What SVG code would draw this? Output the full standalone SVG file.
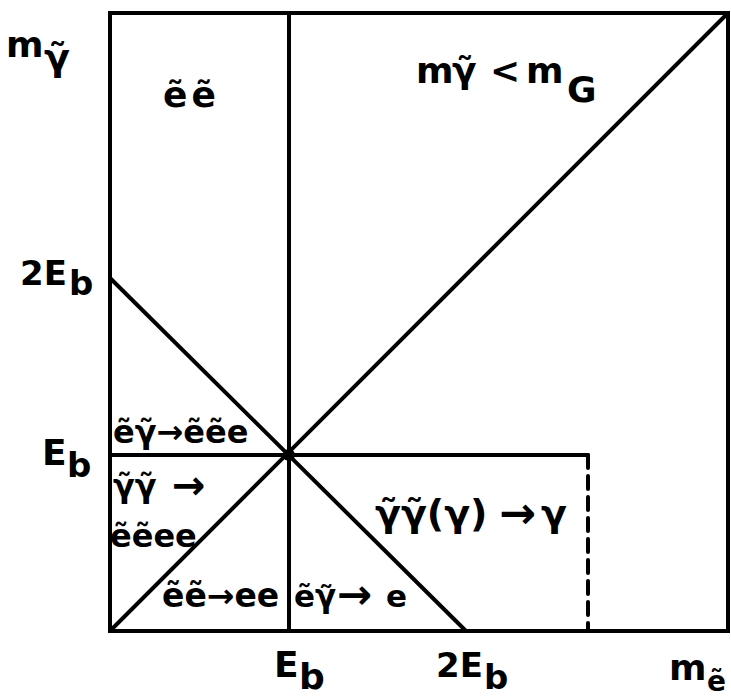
<svg xmlns="http://www.w3.org/2000/svg" width="731" height="698" viewBox="0 0 731 698">
<style>
.ln{stroke:#000;stroke-width:4;fill:none;stroke-linecap:round}
.t{font-family:"DejaVu Sans",sans-serif;font-weight:bold;fill:#000}
</style>
<rect width="731" height="698" fill="#fff"/>
<g id="lines">
<rect class="ln" x="110" y="13" width="618" height="618" stroke-linecap="square"/>
<line class="ln" x1="289" y1="13" x2="289" y2="631"/>
<line class="ln" x1="110" y1="631" x2="728" y2="13"/>
<line class="ln" x1="110" y1="278" x2="466" y2="631"/>
<line class="ln" x1="110" y1="455" x2="588" y2="455"/>
<line class="ln" x1="588" y1="455" x2="588" y2="631" stroke-dasharray="13 8" stroke-linecap="butt"/>
<circle cx="289" cy="455" r="6" fill="#000"/>
</g>
<g id="axis-labels">
<text class="t" font-size="36"><tspan x="6" y="57">m</tspan><tspan x="44" y="70" font-size="38">γ̃</tspan></text>
<text class="t" font-size="34"><tspan x="20" y="285">2E</tspan><tspan x="69" y="295">b</tspan></text>
<text class="t" font-size="36"><tspan x="42" y="465">E</tspan><tspan x="67" y="477" font-size="34">b</tspan></text>
<text class="t" font-size="36"><tspan x="274" y="677">E</tspan><tspan x="299" y="689">b</tspan></text>
<text class="t" font-size="34"><tspan x="436" y="677">2E</tspan><tspan x="484" y="689">b</tspan></text>
<text class="t" font-size="36"><tspan x="669" y="680">m</tspan><tspan x="707" y="691" font-size="28">ẽ</tspan></text>
</g>
<g id="regions">
<text class="t" font-size="36" letter-spacing="4"><tspan x="163" y="107">ẽẽ</tspan></text>
<text class="t" font-size="36"><tspan x="416" y="83">m</tspan><tspan x="452" y="83">γ̃</tspan><tspan x="490" y="83">&lt;</tspan><tspan x="526" y="83">m</tspan><tspan x="567" y="102">G</tspan></text>
<text class="t" font-size="32" x="113" y="443">ẽγ̃→ẽẽe</text>
<text class="t" font-size="32"><tspan x="113" y="497">γ̃γ̃</tspan><tspan x="172" y="499" font-size="40">→</tspan></text>
<text class="t" font-size="32" x="110" y="547">ẽẽee</text>
<text class="t" font-size="33" x="162" y="607">ẽẽ→ee</text>
<text class="t" font-size="31"><tspan x="294" y="607">ẽγ̃</tspan><tspan x="337" y="609" font-size="42">→</tspan><tspan x="386" y="607">e</tspan></text>
<text class="t" font-size="38"><tspan x="375" y="526">γ̃γ̃(γ)</tspan><tspan x="499" y="528" font-size="44">→</tspan><tspan x="541" y="526">γ</tspan></text>
</g>
</svg>
